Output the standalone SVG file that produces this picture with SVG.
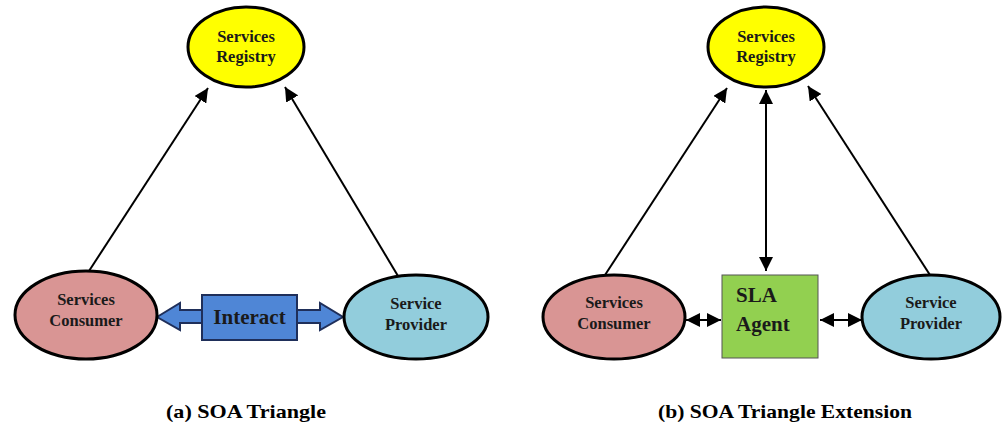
<svg xmlns="http://www.w3.org/2000/svg" width="1002" height="427" viewBox="0 0 1002 427">
<defs>
<marker id="ah" viewBox="0 0 10 10" refX="10" refY="5" markerWidth="7" markerHeight="7" markerUnits="strokeWidth" orient="auto-start-reverse">
<path d="M0,0 L10,5 L0,10 z" fill="#000"/>
</marker>
<style>
.ell{stroke:#000;stroke-width:3}
.reg{fill:#ffff00}
.con{fill:#d99594}
.pro{fill:#92cddc}
.lbl{font-family:"Liberation Serif",serif;font-weight:bold;font-size:16.5px;fill:#1a1a1a;text-anchor:middle}
.big{font-family:"Liberation Serif",serif;font-weight:bold;font-size:21px;fill:#1a1a1a}
.cap{font-family:"Liberation Serif",serif;font-weight:bold;font-size:19px;fill:#000;text-anchor:middle}
.ln{stroke:#000;stroke-width:2;fill:none}
</style>
</defs>
<rect width="1002" height="427" fill="#fff"/>
<g id="connectors">
<line class="ln" x1="89" y1="271" x2="208" y2="88" marker-end="url(#ah)"/>
<line class="ln" x1="398" y1="276" x2="285" y2="87" marker-end="url(#ah)"/>
<line class="ln" x1="605" y1="275" x2="727" y2="88" marker-end="url(#ah)"/>
<line class="ln" x1="930" y1="275" x2="808" y2="86" marker-end="url(#ah)"/>
<line class="ln" x1="766" y1="90" x2="766" y2="271" marker-start="url(#ah)" marker-end="url(#ah)"/>
<line class="ln" x1="686" y1="320" x2="721" y2="320" marker-start="url(#ah)" marker-end="url(#ah)"/>
<line class="ln" x1="820" y1="320" x2="862" y2="320" marker-start="url(#ah)" marker-end="url(#ah)"/>
</g>
<g id="interact">
<polygon points="157,317 180,303 180,310 320,310 320,303 343,317 320,330 320,323 180,323 180,330" fill="#4f86d6" stroke="#1f2f5a" stroke-width="2" stroke-linejoin="miter"/>
<rect x="202" y="295" width="95" height="45" fill="#4f86d6" stroke="#1f2f5a" stroke-width="2"/>
<text class="big" x="249.5" y="324" text-anchor="middle">Interact</text>
</g>
<g id="registry-a">
<ellipse class="ell reg" cx="246" cy="47" rx="58" ry="40"/>
<text class="lbl" x="246" y="42">Services</text>
<text class="lbl" x="246" y="62">Registry</text>
</g>
<g id="consumer-a">
<ellipse class="ell con" cx="86" cy="315" rx="71" ry="44"/>
<text class="lbl" x="86" y="305">Services</text>
<text class="lbl" x="86" y="326">Consumer</text>
</g>
<g id="provider-a">
<ellipse class="ell pro" cx="416" cy="317" rx="72" ry="42"/>
<text class="lbl" x="416" y="309">Service</text>
<text class="lbl" x="416" y="330">Provider</text>
</g>
<g id="registry-b">
<ellipse class="ell reg" cx="766" cy="47" rx="58" ry="40"/>
<text class="lbl" x="766" y="42">Services</text>
<text class="lbl" x="766" y="62">Registry</text>
</g>
<g id="consumer-b">
<ellipse class="ell con" cx="614" cy="317" rx="71" ry="42"/>
<text class="lbl" x="614" y="308">Services</text>
<text class="lbl" x="614" y="329">Consumer</text>
</g>
<g id="sla-agent">
<rect x="722" y="275" width="96" height="83" fill="#92d050" stroke="#555" stroke-width="1"/>
<text class="big" x="736" y="302">SLA</text>
<text class="big" x="736" y="331">Agent</text>
</g>
<g id="provider-b">
<ellipse class="ell pro" cx="931" cy="317" rx="69" ry="42"/>
<text class="lbl" x="931" y="308">Service</text>
<text class="lbl" x="931" y="329">Provider</text>
</g>
<g id="captions">
<text class="cap" x="246" y="418" textLength="160" lengthAdjust="spacingAndGlyphs">(a) SOA Triangle</text>
<text class="cap" x="785" y="418" textLength="254" lengthAdjust="spacingAndGlyphs">(b) SOA Triangle Extension</text>
</g>
</svg>
